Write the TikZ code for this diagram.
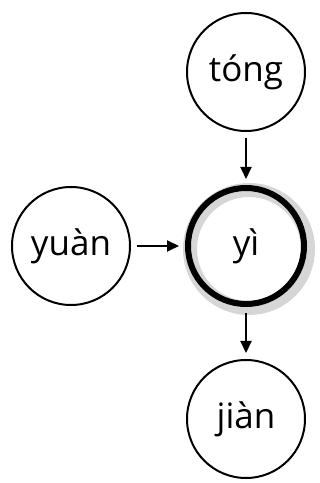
\documentclass[tikz,border=0pt]{standalone}
\usepackage{fontspec}
\setmainfont{Open Sans}
\usetikzlibrary{arrows.meta}
\begin{document}
\begin{tikzpicture}[x=1pt,y=1pt,
  syl/.style={circle,draw,line width=2pt,minimum size=118pt,inner sep=0pt,
    font=\fontsize{35}{35}\selectfont},
  link/.style={-{Triangle[length=12pt,width=11pt]},line width=2pt,
    shorten >=6pt,shorten <=6pt}]
  \useasboundingbox (0,0) rectangle (320,483);
  % halo behind the central node
  \fill[gray!40,opacity=0.8,even odd rule] (249,234) circle (66) (249,234) circle (52);
  \node[syl] (tong) at (246,411) {tóng};
  \node[syl] (yuan) at (71,237) {yuàn};
  \node[syl,line width=6pt,minimum size=116pt] (yi) at (246,237) {yì};
  \node[syl] (jian) at (246,64) {jiàn};
  \draw[link] (tong) -- (yi);
  \draw[link] (yuan) -- (yi);
  \draw[link] (yi) -- (jian);
\end{tikzpicture}
\end{document}
